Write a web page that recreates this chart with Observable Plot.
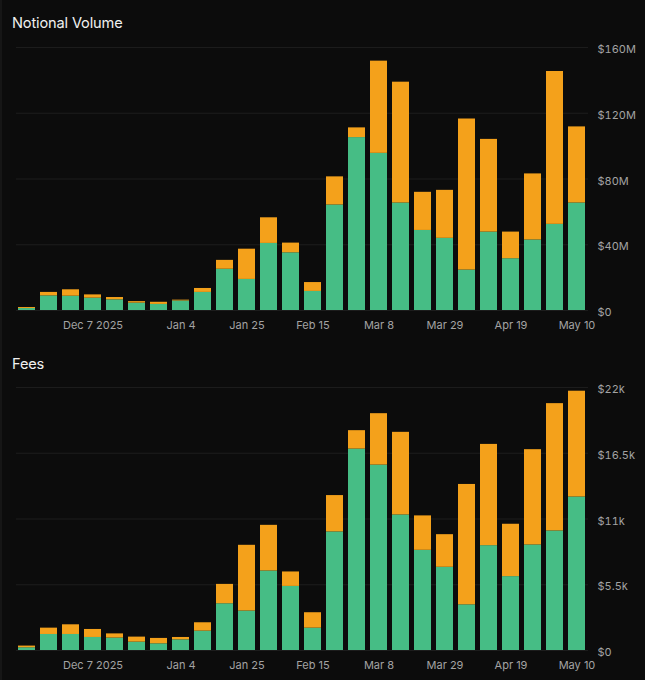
<!DOCTYPE html>
<html>
<head>
<meta charset="utf-8">
<script src="https://cdn.jsdelivr.net/npm/d3@7"></script>
<script src="https://cdn.jsdelivr.net/npm/@observablehq/plot@0.6"></script>
<style>
  html, body { margin: 0; padding: 0; background: #0c0c0c; }
  body { width: 645px; height: 680px; overflow: hidden; position: relative; font-family: Inter, "Liberation Sans", sans-serif; }
  .edge { position: absolute; left: 0; top: 0; width: 2px; height: 680px; background: #161616; }
  .title { position: absolute; left: 12px; color: #f0f0f0; font-size: 14.6px; line-height: 15px; letter-spacing: -0.15px; }
  .chart { position: absolute; left: 0; }
</style>
</head>
<body>
<div class="edge"></div>
<div class="title" style="top:16px">Notional Volume</div>
<div class="chart" id="vol" style="top:40px"></div>
<div class="title" style="top:357px">Fees</div>
<div class="chart" id="fees" style="top:380px"></div>
<script>
// Weekly buckets (week starting)
const weeks = [
  "2025-11-16","2025-11-23","2025-11-30","2025-12-07","2025-12-14","2025-12-21",
  "2025-12-28","2026-01-04","2026-01-11","2026-01-18","2026-01-25","2026-02-01",
  "2026-02-08","2026-02-15","2026-02-22","2026-03-01","2026-03-08","2026-03-15",
  "2026-03-22","2026-03-29","2026-04-05","2026-04-12","2026-04-19","2026-04-26",
  "2026-05-03","2026-05-10"
];

// Notional volume, $M (bottom segment, top segment)
const volumeBottom = [1.2, 8.9, 8.7, 7.5, 6.5, 4.5, 3.7, 5.8, 11.0, 25.1, 18.9, 40.8, 35.1,
  11.6, 64.2, 105.2, 95.6, 65.4, 48.7, 43.9, 24.6, 47.7, 31.5, 42.9, 52.4, 65.4];
const volumeTop = [0.6, 2.1, 3.9, 2.0, 1.4, 0.9, 1.3, 0.5, 2.4, 5.4, 18.4, 15.6, 5.9,
  5.4, 17.1, 5.9, 56.1, 73.5, 23.2, 29.2, 91.9, 56.4, 16.2, 40.2, 93.0, 46.3];

// Fees, $k
const feesBottom = [0.23, 1.34, 1.34, 1.09, 1.04, 0.70, 0.56, 0.89, 1.62, 3.91, 3.30, 6.65, 5.36,
  1.87, 9.92, 16.85, 15.51, 11.34, 8.38, 6.96, 3.82, 8.77, 6.18, 8.83, 10.0, 12.84];
const feesTop = [0.14, 0.53, 0.81, 0.67, 0.35, 0.42, 0.45, 0.20, 0.70, 1.62, 5.50, 3.82, 1.21,
  1.29, 3.04, 1.54, 4.30, 6.91, 2.88, 2.73, 10.07, 8.47, 4.38, 7.97, 10.65, 8.85];

const tickWeeks = ["2025-12-07","2026-01-04","2026-01-25","2026-02-15","2026-03-08","2026-03-29","2026-04-19","2026-05-10"];
const tickLabels = ["Dec 7 2025","Jan 4","Jan 25","Feb 15","Mar 8","Mar 29","Apr 19","May 10"];

const volumeTicks = [0, 40, 80, 120, 160];
const volumeTickLabels = ["$0", "$40M", "$80M", "$120M", "$160M"];
const feesTicks = [0, 5.5, 11, 16.5, 22];
const feesTickLabels = ["$0", "$5.5k", "$11k", "$16.5k", "$22k"];

const seriesNames = ["Series A", "Series B"];
const seriesColors = ["#46bd85", "#f4a11b"];

function makeRows(bottom, top) {
  const rows = [];
  weeks.forEach((w, i) => {
    rows.push({week: w, series: seriesNames[0], value: bottom[i]});
    rows.push({week: w, series: seriesNames[1], value: top[i]});
  });
  return rows;
}

function chart(rows, yTicks, yLabels, yMax) {
  return Plot.plot({
    width: 645,
    height: 300,
    marginLeft: 16,
    marginRight: 57,
    marginTop: 7,
    marginBottom: 30,
    style: {background: "transparent", color: "#a3a3a3", fontFamily: "Inter, 'Liberation Sans', sans-serif", fontSize: "11px"},
    x: {type: "band", domain: weeks, paddingInner: 0.21, paddingOuter: 0.1, axis: null, label: null},
    y: {domain: [0, yMax], axis: null, label: null},
    color: {domain: seriesNames, range: seriesColors},
    marks: [
      Plot.gridY(yTicks, {stroke: "#1c1c1c", strokeOpacity: 1}),
      Plot.barY(rows, Plot.stackY({x: "week", y: "value", fill: "series", order: seriesNames})),
      Plot.axisY(yTicks, {anchor: "right", tickSize: 0, tickPadding: 9, dy: 2, fill: "#a3a3a3", label: null,
        tickFormat: d => yLabels[yTicks.indexOf(d)]}),
      Plot.axisX(tickWeeks, {tickSize: 0, tickPadding: 11, fill: "#a3a3a3", label: null,
        tickFormat: d => tickLabels[tickWeeks.indexOf(d)]})
    ]
  });
}

document.getElementById("vol").append(chart(makeRows(volumeBottom, volumeTop), volumeTicks, volumeTickLabels, 160));
document.getElementById("fees").append(chart(makeRows(feesBottom, feesTop), feesTicks, feesTickLabels, 22));
</script>
</body>
</html>
